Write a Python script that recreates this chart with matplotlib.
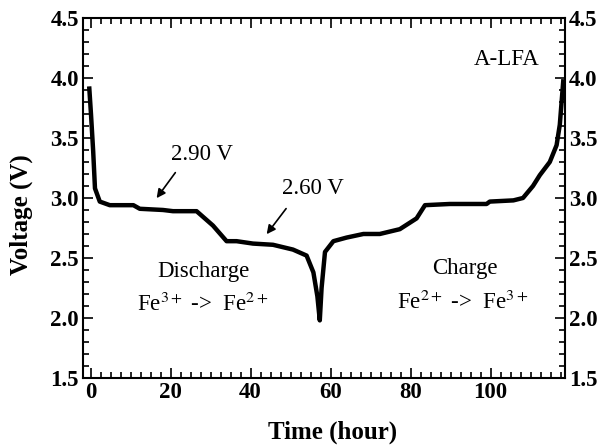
import matplotlib
matplotlib.use("Agg")
from matplotlib import pyplot as plt
from matplotlib.ticker import MultipleLocator

plt.rcParams["font.family"] = ["Liberation Serif", "DejaVu Serif"]
plt.rcParams["mathtext.fontset"] = "stix"

# voltage profile
time_h = [-0.35, 0.1, 0.65, 1.1, 2.3, 4.8, 10.7, 12.3, 18.1, 20.6, 26.5,
          30.6, 34.0, 36.5, 40.6, 45.6, 50.6, 54.0, 55.7, 56.7, 57.3, 57.75,
          58.6, 60.7, 64.0, 68.2, 72.3, 77.3, 81.5, 83.6, 89.8, 99.0, 99.8,
          105.7, 108.1, 110.6, 112.3, 114.8, 116.5, 117.3, 118.2]
voltage = [3.93, 3.70, 3.39, 3.08, 2.97, 2.94, 2.94, 2.91, 2.90, 2.89, 2.89,
           2.77, 2.64, 2.64, 2.62, 2.61, 2.57, 2.52, 2.38, 2.18, 1.98, 2.25,
           2.55, 2.64, 2.67, 2.70, 2.70, 2.74, 2.83, 2.94, 2.95, 2.95, 2.97,
           2.98, 3.00, 3.10, 3.19, 3.30, 3.44, 3.61, 3.99]

x_ticks = [0, 20, 40, 60, 80, 100]
y_ticks = [1.5, 2.0, 2.5, 3.0, 3.5, 4.0, 4.5]

fig = plt.figure(figsize=(6.07, 4.46), dpi=100)
ax = fig.add_axes([0.1367, 0.1525, 0.7941, 0.8072])

ax.plot(time_h, voltage, color="black", linewidth=3.2, solid_capstyle="butt")

ax.set_xlim(-1.9, 118.6)
ax.set_ylim(1.5, 4.5)
ax.set_xticks(x_ticks)
ax.set_yticks(y_ticks)
ax.xaxis.set_minor_locator(MultipleLocator(2.5))
ax.yaxis.set_minor_locator(MultipleLocator(0.1))
ax.tick_params(which="both", direction="in", top=True, right=True,
               labelright=True, width=1.2)
ax.tick_params(which="major", length=7, labelsize=16.5, pad=3)
ax.tick_params(which="minor", length=4)
for lab in ax.get_xticklabels() + ax.get_yticklabels():
    lab.set_fontweight("bold")
for sp in ax.spines.values():
    sp.set_linewidth(1.5)

ax.set_xlabel("Time (hour)", fontsize=18, fontweight="bold", va="center")
ax.set_ylabel("Voltage (V)", fontsize=18, fontweight="bold", va="center")
ax.xaxis.set_label_coords(0.517, -0.15)
ax.yaxis.set_label_coords(-0.127, 0.453)

arrow = dict(arrowstyle="-|>", color="black", lw=1.2, mutation_scale=13)
ax.annotate("", xy=(16.1, 2.98), xytext=(21.6, 3.23), arrowprops=arrow)
ax.annotate("", xy=(43.6, 2.68), xytext=(49.3, 2.93), arrowprops=arrow)
ax.text(27.8, 3.36, "2.90 V", fontsize=16.5, ha="center", va="center")
ax.text(55.6, 3.08, "2.60 V", fontsize=16.5, ha="center", va="center")

ax.text(28.1, 2.39, "Discharge", fontsize=16.5, ha="center", va="center")
ax.text(28.1, 2.11, r"Fe$^{3+}$ ->  Fe$^{2+}$", fontsize=16.5,
        ha="center", va="center")
ax.text(93.6, 2.41, "Charge", fontsize=16.5, ha="center", va="center")
ax.text(93.1, 2.13, r"Fe$^{2+}$ ->  Fe$^{3+}$", fontsize=16.5,
        ha="center", va="center")
ax.text(104.1, 4.15, "A-LFA", fontsize=16.5, ha="center", va="center")

fig.savefig("out.png", dpi=100)
